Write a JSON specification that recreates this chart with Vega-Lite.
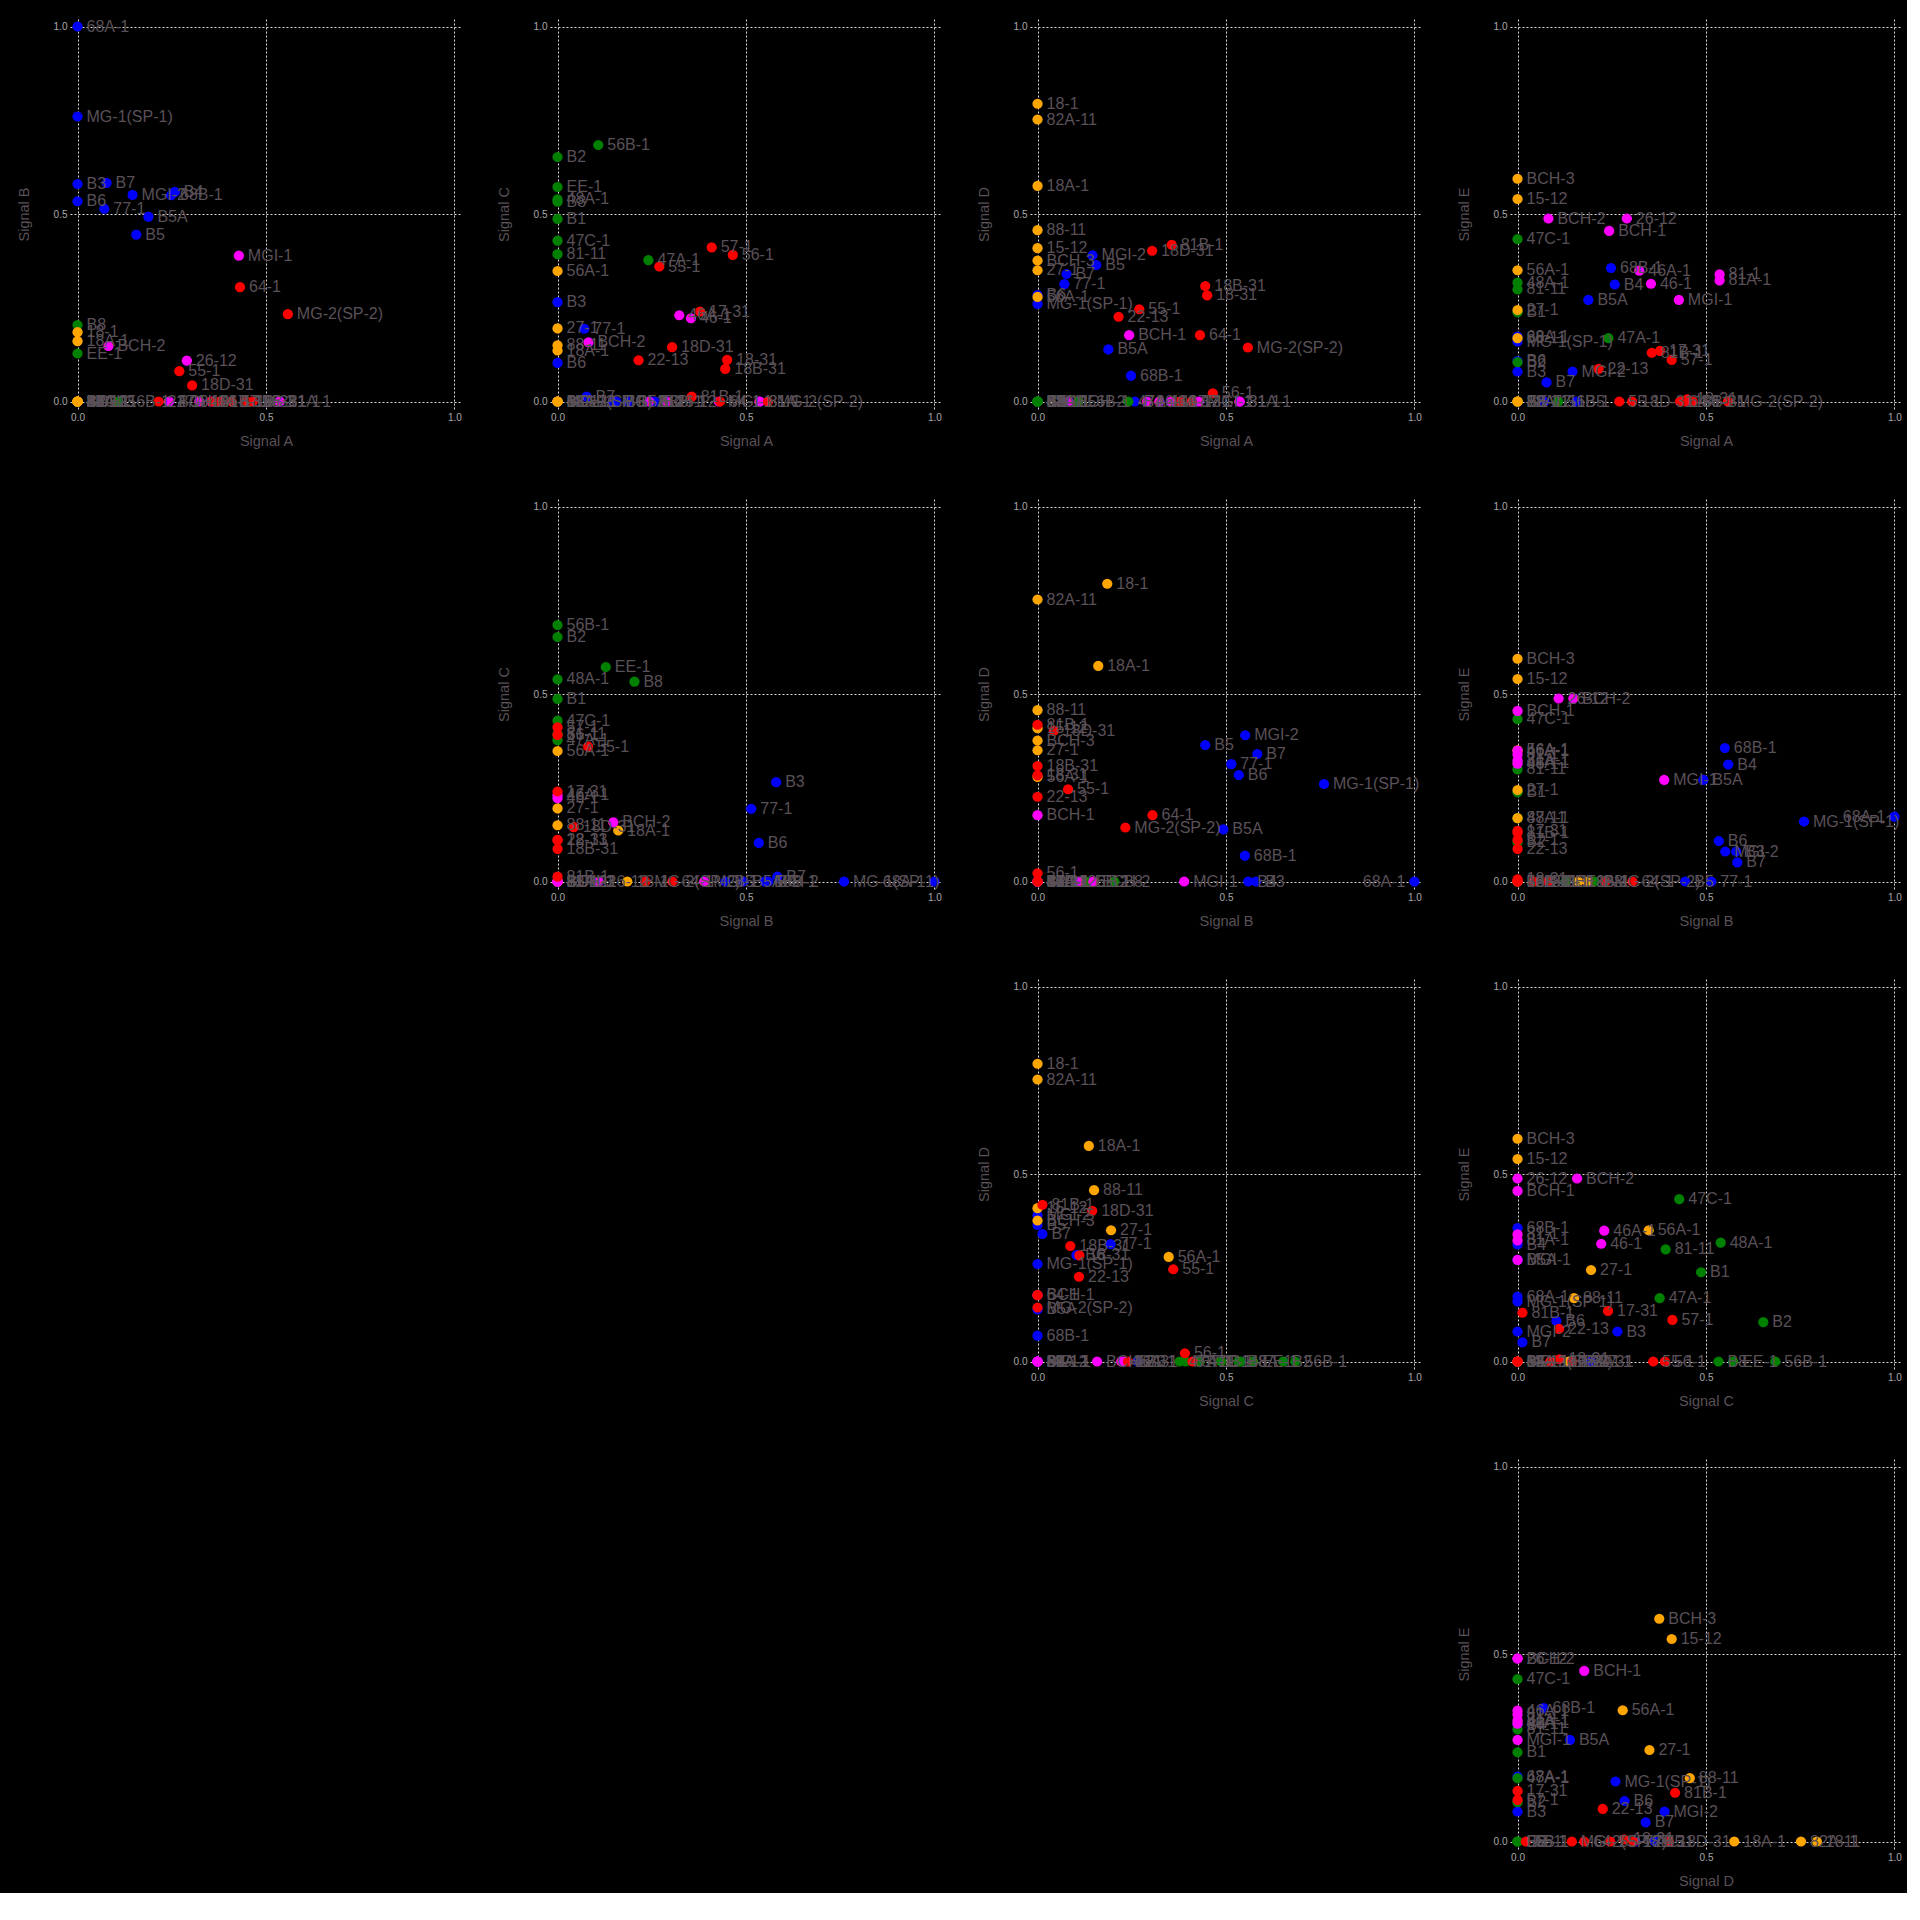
{
  "$schema": "https://vega.github.io/schema/vega-lite/v6.json",
  "background": "black",
  "padding": {"left": 16, "top": 18, "right": 5, "bottom": 5},
  "bounds": "flush",
  "columns": 4,
  "spacing": {"row": 90, "column": 88},
  "data": {"values": [
    {"name": "68A-1", "group": "G1", "A": 0, "B": 1.0, "C": 0, "D": 0, "E": 0.173},
    {"name": "MG-1(SP-1)", "group": "G1", "A": 0, "B": 0.76, "C": 0, "D": 0.26, "E": 0.16},
    {"name": "B3", "group": "G1", "A": 0, "B": 0.58, "C": 0.265, "D": 0, "E": 0.08},
    {"name": "B7", "group": "G1", "A": 0.077, "B": 0.583, "C": 0.013, "D": 0.34, "E": 0.051},
    {"name": "MGI-2", "group": "G1", "A": 0.146, "B": 0.551, "C": 0, "D": 0.39, "E": 0.08},
    {"name": "68B-1", "group": "G1", "A": 0.248, "B": 0.55, "C": 0, "D": 0.069, "E": 0.356},
    {"name": "B4", "group": "G1", "A": 0.258, "B": 0.559, "C": 0, "D": 0, "E": 0.312},
    {"name": "B6", "group": "G1", "A": 0, "B": 0.534, "C": 0.103, "D": 0.284, "E": 0.108},
    {"name": "77-1", "group": "G1", "A": 0.071, "B": 0.514, "C": 0.194, "D": 0.313, "E": 0},
    {"name": "B5A", "group": "G1", "A": 0.188, "B": 0.493, "C": 0, "D": 0.139, "E": 0.271},
    {"name": "B5", "group": "G1", "A": 0.156, "B": 0.445, "C": 0, "D": 0.364, "E": 0},
    {"name": "56B-1", "group": "G2", "A": 0.108, "B": 0, "C": 0.684, "D": 0, "E": 0},
    {"name": "B2", "group": "G2", "A": 0, "B": 0, "C": 0.652, "D": 0, "E": 0.105},
    {"name": "EE-1", "group": "G2", "A": 0, "B": 0.128, "C": 0.572, "D": 0, "E": 0},
    {"name": "48A-1", "group": "G2", "A": 0, "B": 0, "C": 0.539, "D": 0, "E": 0.317},
    {"name": "B8", "group": "G2", "A": 0, "B": 0.204, "C": 0.533, "D": 0, "E": 0},
    {"name": "B1", "group": "G2", "A": 0, "B": 0, "C": 0.487, "D": 0, "E": 0.238},
    {"name": "47C-1", "group": "G2", "A": 0, "B": 0, "C": 0.429, "D": 0, "E": 0.433},
    {"name": "81-11", "group": "G2", "A": 0, "B": 0, "C": 0.393, "D": 0, "E": 0.299},
    {"name": "47A-1", "group": "G2", "A": 0.241, "B": 0, "C": 0.377, "D": 0, "E": 0.169},
    {"name": "18-1", "group": "G3", "A": 0, "B": 0.185, "C": 0, "D": 0.794, "E": 0},
    {"name": "82A-11", "group": "G3", "A": 0, "B": 0, "C": 0, "D": 0.752, "E": 0},
    {"name": "18A-1", "group": "G3", "A": 0, "B": 0.161, "C": 0.136, "D": 0.575, "E": 0},
    {"name": "88-11", "group": "G3", "A": 0, "B": 0, "C": 0.15, "D": 0.457, "E": 0.169},
    {"name": "15-12", "group": "G3", "A": 0, "B": 0, "C": 0, "D": 0.409, "E": 0.54},
    {"name": "BCH-3", "group": "G3", "A": 0, "B": 0, "C": 0, "D": 0.376, "E": 0.594},
    {"name": "27-1", "group": "G3", "A": 0, "B": 0, "C": 0.195, "D": 0.35, "E": 0.244},
    {"name": "56A-1", "group": "G3", "A": 0, "B": 0, "C": 0.348, "D": 0.279, "E": 0.35},
    {"name": "BCH-2", "group": "G4", "A": 0.082, "B": 0.148, "C": 0.158, "D": 0, "E": 0.488},
    {"name": "26-12", "group": "G4", "A": 0.29, "B": 0.109, "C": 0, "D": 0, "E": 0.488},
    {"name": "BCH-1", "group": "G4", "A": 0.243, "B": 0, "C": 0, "D": 0.177, "E": 0.455},
    {"name": "46A-1", "group": "G4", "A": 0.323, "B": 0, "C": 0.23, "D": 0, "E": 0.349},
    {"name": "46-1", "group": "G4", "A": 0.354, "B": 0, "C": 0.222, "D": 0, "E": 0.314},
    {"name": "MGI-1", "group": "G4", "A": 0.428, "B": 0.389, "C": 0, "D": 0, "E": 0.271},
    {"name": "81-1", "group": "G4", "A": 0.536, "B": 0, "C": 0, "D": 0, "E": 0.339},
    {"name": "81A-1", "group": "G4", "A": 0.536, "B": 0, "C": 0, "D": 0, "E": 0.323},
    {"name": "57-1", "group": "G5", "A": 0.409, "B": 0, "C": 0.411, "D": 0, "E": 0.111},
    {"name": "56-1", "group": "G5", "A": 0.465, "B": 0, "C": 0.391, "D": 0.022, "E": 0},
    {"name": "55-1", "group": "G5", "A": 0.27, "B": 0.081, "C": 0.36, "D": 0.246, "E": 0},
    {"name": "17-31", "group": "G5", "A": 0.378, "B": 0, "C": 0.24, "D": 0, "E": 0.135},
    {"name": "18D-31", "group": "G5", "A": 0.304, "B": 0.043, "C": 0.145, "D": 0.402, "E": 0},
    {"name": "22-13", "group": "G5", "A": 0.215, "B": 0, "C": 0.11, "D": 0.226, "E": 0.087},
    {"name": "18-31", "group": "G5", "A": 0.45, "B": 0, "C": 0.111, "D": 0.283, "E": 0.006},
    {"name": "18B-31", "group": "G5", "A": 0.445, "B": 0, "C": 0.087, "D": 0.308, "E": 0},
    {"name": "81B-1", "group": "G5", "A": 0.356, "B": 0, "C": 0.013, "D": 0.418, "E": 0.13},
    {"name": "64-1", "group": "G5", "A": 0.431, "B": 0.305, "C": 0, "D": 0.177, "E": 0},
    {"name": "MG-2(SP-2)", "group": "G5", "A": 0.558, "B": 0.233, "C": 0, "D": 0.144, "E": 0}
  ]},
  "concat": [
    {"width": 392, "height": 390, "encoding": {
      "x": {"field": "A", "type": "quantitative", "title": "Signal A", "axis": {"values": [0, 0.5, 1]}, "scale": {"domain": [-0.02, 1.02], "nice": false, "zero": false}},
      "y": {"field": "B", "type": "quantitative", "title": "Signal B", "axis": {"values": [0, 0.5, 1]}, "scale": {"domain": [-0.02, 1.02], "nice": false, "zero": false}}},
     "layer": [
      {"mark": {"type": "circle", "size": 105, "opacity": 1}, "encoding": {"color": {"field": "group", "type": "nominal", "legend": null, "scale": {"domain": ["G1", "G2", "G3", "G4", "G5"], "range": ["#0000ff", "#008000", "#ffa500", "#ff00ff", "#ff0000"]}}}},
      {"transform": [{"filter": "datum.A <= 0.85"}], "mark": {"type": "text", "align": "left", "baseline": "middle", "dx": 9, "font": "Liberation Sans", "fontSize": 16, "color": "#5a5058"}, "encoding": {"text": {"field": "name"}}},
      {"transform": [{"filter": "datum.A > 0.85"}], "mark": {"type": "text", "align": "right", "baseline": "middle", "dx": -9, "font": "Liberation Sans", "fontSize": 16, "color": "#5a5058"}, "encoding": {"text": {"field": "name"}}}
     ]},
    {"width": 392, "height": 390, "encoding": {
      "x": {"field": "A", "type": "quantitative", "title": "Signal A", "axis": {"values": [0, 0.5, 1]}, "scale": {"domain": [-0.02, 1.02], "nice": false, "zero": false}},
      "y": {"field": "C", "type": "quantitative", "title": "Signal C", "axis": {"values": [0, 0.5, 1]}, "scale": {"domain": [-0.02, 1.02], "nice": false, "zero": false}}},
     "layer": [
      {"mark": {"type": "circle", "size": 105, "opacity": 1}, "encoding": {"color": {"field": "group", "type": "nominal", "legend": null, "scale": {"domain": ["G1", "G2", "G3", "G4", "G5"], "range": ["#0000ff", "#008000", "#ffa500", "#ff00ff", "#ff0000"]}}}},
      {"transform": [{"filter": "datum.A <= 0.85"}], "mark": {"type": "text", "align": "left", "baseline": "middle", "dx": 9, "font": "Liberation Sans", "fontSize": 16, "color": "#5a5058"}, "encoding": {"text": {"field": "name"}}},
      {"transform": [{"filter": "datum.A > 0.85"}], "mark": {"type": "text", "align": "right", "baseline": "middle", "dx": -9, "font": "Liberation Sans", "fontSize": 16, "color": "#5a5058"}, "encoding": {"text": {"field": "name"}}}
     ]},
    {"width": 392, "height": 390, "encoding": {
      "x": {"field": "A", "type": "quantitative", "title": "Signal A", "axis": {"values": [0, 0.5, 1]}, "scale": {"domain": [-0.02, 1.02], "nice": false, "zero": false}},
      "y": {"field": "D", "type": "quantitative", "title": "Signal D", "axis": {"values": [0, 0.5, 1]}, "scale": {"domain": [-0.02, 1.02], "nice": false, "zero": false}}},
     "layer": [
      {"mark": {"type": "circle", "size": 105, "opacity": 1}, "encoding": {"color": {"field": "group", "type": "nominal", "legend": null, "scale": {"domain": ["G1", "G2", "G3", "G4", "G5"], "range": ["#0000ff", "#008000", "#ffa500", "#ff00ff", "#ff0000"]}}}},
      {"transform": [{"filter": "datum.A <= 0.85"}], "mark": {"type": "text", "align": "left", "baseline": "middle", "dx": 9, "font": "Liberation Sans", "fontSize": 16, "color": "#5a5058"}, "encoding": {"text": {"field": "name"}}},
      {"transform": [{"filter": "datum.A > 0.85"}], "mark": {"type": "text", "align": "right", "baseline": "middle", "dx": -9, "font": "Liberation Sans", "fontSize": 16, "color": "#5a5058"}, "encoding": {"text": {"field": "name"}}}
     ]},
    {"width": 392, "height": 390, "encoding": {
      "x": {"field": "A", "type": "quantitative", "title": "Signal A", "axis": {"values": [0, 0.5, 1]}, "scale": {"domain": [-0.02, 1.02], "nice": false, "zero": false}},
      "y": {"field": "E", "type": "quantitative", "title": "Signal E", "axis": {"values": [0, 0.5, 1]}, "scale": {"domain": [-0.02, 1.02], "nice": false, "zero": false}}},
     "layer": [
      {"mark": {"type": "circle", "size": 105, "opacity": 1}, "encoding": {"color": {"field": "group", "type": "nominal", "legend": null, "scale": {"domain": ["G1", "G2", "G3", "G4", "G5"], "range": ["#0000ff", "#008000", "#ffa500", "#ff00ff", "#ff0000"]}}}},
      {"transform": [{"filter": "datum.A <= 0.85"}], "mark": {"type": "text", "align": "left", "baseline": "middle", "dx": 9, "font": "Liberation Sans", "fontSize": 16, "color": "#5a5058"}, "encoding": {"text": {"field": "name"}}},
      {"transform": [{"filter": "datum.A > 0.85"}], "mark": {"type": "text", "align": "right", "baseline": "middle", "dx": -9, "font": "Liberation Sans", "fontSize": 16, "color": "#5a5058"}, "encoding": {"text": {"field": "name"}}}
     ]},
    {"width": 392, "height": 390, "data": {"values": []}, "mark": "point"},
    {"width": 392, "height": 390, "encoding": {
      "x": {"field": "B", "type": "quantitative", "title": "Signal B", "axis": {"values": [0, 0.5, 1]}, "scale": {"domain": [-0.02, 1.02], "nice": false, "zero": false}},
      "y": {"field": "C", "type": "quantitative", "title": "Signal C", "axis": {"values": [0, 0.5, 1]}, "scale": {"domain": [-0.02, 1.02], "nice": false, "zero": false}}},
     "layer": [
      {"mark": {"type": "circle", "size": 105, "opacity": 1}, "encoding": {"color": {"field": "group", "type": "nominal", "legend": null, "scale": {"domain": ["G1", "G2", "G3", "G4", "G5"], "range": ["#0000ff", "#008000", "#ffa500", "#ff00ff", "#ff0000"]}}}},
      {"transform": [{"filter": "datum.B <= 0.85"}], "mark": {"type": "text", "align": "left", "baseline": "middle", "dx": 9, "font": "Liberation Sans", "fontSize": 16, "color": "#5a5058"}, "encoding": {"text": {"field": "name"}}},
      {"transform": [{"filter": "datum.B > 0.85"}], "mark": {"type": "text", "align": "right", "baseline": "middle", "dx": -9, "font": "Liberation Sans", "fontSize": 16, "color": "#5a5058"}, "encoding": {"text": {"field": "name"}}}
     ]},
    {"width": 392, "height": 390, "encoding": {
      "x": {"field": "B", "type": "quantitative", "title": "Signal B", "axis": {"values": [0, 0.5, 1]}, "scale": {"domain": [-0.02, 1.02], "nice": false, "zero": false}},
      "y": {"field": "D", "type": "quantitative", "title": "Signal D", "axis": {"values": [0, 0.5, 1]}, "scale": {"domain": [-0.02, 1.02], "nice": false, "zero": false}}},
     "layer": [
      {"mark": {"type": "circle", "size": 105, "opacity": 1}, "encoding": {"color": {"field": "group", "type": "nominal", "legend": null, "scale": {"domain": ["G1", "G2", "G3", "G4", "G5"], "range": ["#0000ff", "#008000", "#ffa500", "#ff00ff", "#ff0000"]}}}},
      {"transform": [{"filter": "datum.B <= 0.85"}], "mark": {"type": "text", "align": "left", "baseline": "middle", "dx": 9, "font": "Liberation Sans", "fontSize": 16, "color": "#5a5058"}, "encoding": {"text": {"field": "name"}}},
      {"transform": [{"filter": "datum.B > 0.85"}], "mark": {"type": "text", "align": "right", "baseline": "middle", "dx": -9, "font": "Liberation Sans", "fontSize": 16, "color": "#5a5058"}, "encoding": {"text": {"field": "name"}}}
     ]},
    {"width": 392, "height": 390, "encoding": {
      "x": {"field": "B", "type": "quantitative", "title": "Signal B", "axis": {"values": [0, 0.5, 1]}, "scale": {"domain": [-0.02, 1.02], "nice": false, "zero": false}},
      "y": {"field": "E", "type": "quantitative", "title": "Signal E", "axis": {"values": [0, 0.5, 1]}, "scale": {"domain": [-0.02, 1.02], "nice": false, "zero": false}}},
     "layer": [
      {"mark": {"type": "circle", "size": 105, "opacity": 1}, "encoding": {"color": {"field": "group", "type": "nominal", "legend": null, "scale": {"domain": ["G1", "G2", "G3", "G4", "G5"], "range": ["#0000ff", "#008000", "#ffa500", "#ff00ff", "#ff0000"]}}}},
      {"transform": [{"filter": "datum.B <= 0.85"}], "mark": {"type": "text", "align": "left", "baseline": "middle", "dx": 9, "font": "Liberation Sans", "fontSize": 16, "color": "#5a5058"}, "encoding": {"text": {"field": "name"}}},
      {"transform": [{"filter": "datum.B > 0.85"}], "mark": {"type": "text", "align": "right", "baseline": "middle", "dx": -9, "font": "Liberation Sans", "fontSize": 16, "color": "#5a5058"}, "encoding": {"text": {"field": "name"}}}
     ]},
    {"width": 392, "height": 390, "data": {"values": []}, "mark": "point"},
    {"width": 392, "height": 390, "data": {"values": []}, "mark": "point"},
    {"width": 392, "height": 390, "encoding": {
      "x": {"field": "C", "type": "quantitative", "title": "Signal C", "axis": {"values": [0, 0.5, 1]}, "scale": {"domain": [-0.02, 1.02], "nice": false, "zero": false}},
      "y": {"field": "D", "type": "quantitative", "title": "Signal D", "axis": {"values": [0, 0.5, 1]}, "scale": {"domain": [-0.02, 1.02], "nice": false, "zero": false}}},
     "layer": [
      {"mark": {"type": "circle", "size": 105, "opacity": 1}, "encoding": {"color": {"field": "group", "type": "nominal", "legend": null, "scale": {"domain": ["G1", "G2", "G3", "G4", "G5"], "range": ["#0000ff", "#008000", "#ffa500", "#ff00ff", "#ff0000"]}}}},
      {"mark": {"type": "text", "align": "left", "baseline": "middle", "dx": 9, "font": "Liberation Sans", "fontSize": 16, "color": "#5a5058"}, "encoding": {"text": {"field": "name"}}}
     ]},
    {"width": 392, "height": 390, "encoding": {
      "x": {"field": "C", "type": "quantitative", "title": "Signal C", "axis": {"values": [0, 0.5, 1]}, "scale": {"domain": [-0.02, 1.02], "nice": false, "zero": false}},
      "y": {"field": "E", "type": "quantitative", "title": "Signal E", "axis": {"values": [0, 0.5, 1]}, "scale": {"domain": [-0.02, 1.02], "nice": false, "zero": false}}},
     "layer": [
      {"mark": {"type": "circle", "size": 105, "opacity": 1}, "encoding": {"color": {"field": "group", "type": "nominal", "legend": null, "scale": {"domain": ["G1", "G2", "G3", "G4", "G5"], "range": ["#0000ff", "#008000", "#ffa500", "#ff00ff", "#ff0000"]}}}},
      {"mark": {"type": "text", "align": "left", "baseline": "middle", "dx": 9, "font": "Liberation Sans", "fontSize": 16, "color": "#5a5058"}, "encoding": {"text": {"field": "name"}}}
     ]},
    {"width": 392, "height": 390, "data": {"values": []}, "mark": "point"},
    {"width": 392, "height": 390, "data": {"values": []}, "mark": "point"},
    {"width": 392, "height": 390, "data": {"values": []}, "mark": "point"},
    {"width": 392, "height": 390, "encoding": {
      "x": {"field": "D", "type": "quantitative", "title": "Signal D", "axis": {"values": [0, 0.5, 1]}, "scale": {"domain": [-0.02, 1.02], "nice": false, "zero": false}},
      "y": {"field": "E", "type": "quantitative", "title": "Signal E", "axis": {"values": [0, 0.5, 1]}, "scale": {"domain": [-0.02, 1.02], "nice": false, "zero": false}}},
     "layer": [
      {"mark": {"type": "circle", "size": 105, "opacity": 1}, "encoding": {"color": {"field": "group", "type": "nominal", "legend": null, "scale": {"domain": ["G1", "G2", "G3", "G4", "G5"], "range": ["#0000ff", "#008000", "#ffa500", "#ff00ff", "#ff0000"]}}}},
      {"mark": {"type": "text", "align": "left", "baseline": "middle", "dx": 9, "font": "Liberation Sans", "fontSize": 16, "color": "#5a5058"}, "encoding": {"text": {"field": "name"}}}
     ]}
  ],
  "resolve": {"scale": {"x": "independent", "y": "independent"}},
  "config": {
    "view": {"stroke": null},
    "axis": {
      "format": ".1f",
      "grid": true,
      "gridColor": "#dddddd",
      "gridDash": [2, 2],
      "gridWidth": 1,
      "gridOpacity": 1,
      "domain": false,
      "ticks": false,
      "labelFlush": false,
      "labelFont": "Liberation Sans",
      "labelFontSize": 10,
      "labelColor": "#aaaaaa",
      "labelPadding": 3,
      "titleFont": "Liberation Sans",
      "titleFontSize": 14.5,
      "titleFontWeight": "normal",
      "titleColor": "#5a5058",
      "titlePadding": 12
    },
    "axisY": {"titlePadding": 22}
  }
}
